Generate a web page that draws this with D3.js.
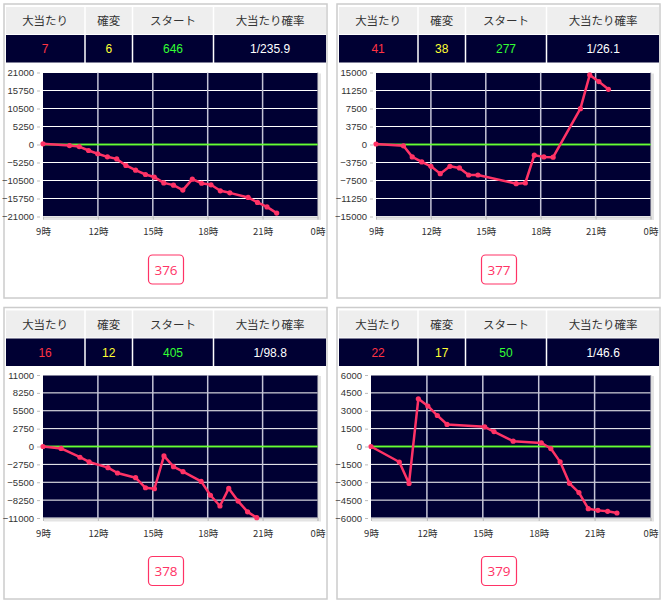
<!DOCTYPE html>
<html><head><meta charset="utf-8">
<script src="https://cdn.jsdelivr.net/npm/d3@7/dist/d3.min.js"></script>
<style>
html,body{margin:0;padding:0;background:#fff;}
svg{display:block;}
</style></head>
<body>
<svg id="chart" width="668" height="609"></svg>
<script>
// ---- data ----
const machineIds = ["376", "377", "378", "379"];
const bigHits = [7, 41, 16, 22];
const kakuhen = [6, 38, 12, 17];
const startCounts = [646, 277, 405, 50];
const hitProbs = ["1/235.9", "1/26.1", "1/98.8", "1/46.6"];
const headerLabels = ["大当たり", "確変", "スタート", "大当たり確率"];
const yMaxes = [21000, 15000, 11000, 6000];
const hourTicks = [9, 12, 15, 18, 21, 24];
const hourLabels = ["9時", "12時", "15時", "18時", "21時", "0時"];

const hours376 = [9.0,10.45,10.98,11.49,11.99,12.52,13.03,13.53,14.06,14.6,15.08,15.6,16.13,16.64,17.16,17.67,18.18,18.69,19.21,20.21,20.72,21.24,21.77];
const values376 = [200,-300,-600,-1750,-2700,-3600,-4200,-6100,-7500,-8750,-9500,-11200,-11850,-13300,-10100,-11300,-11750,-13500,-14100,-15450,-16900,-18200,-20000];

const hours377 = [9.0,10.5,10.98,11.5,12.0,12.51,13.04,13.56,14.06,14.57,16.66,17.16,17.65,18.17,18.68,20.17,20.68,21.18,21.7];
const values377 = [100,-280,-2580,-3630,-4540,-6070,-4540,-4880,-6350,-6350,-8160,-8020,-2230,-2580,-2650,7470,14500,13100,11500];

const hours378 = [9.0,9.99,11.02,11.52,12.55,13.07,14.06,14.6,15.09,15.61,16.13,16.65,17.64,18.15,18.67,19.15,19.66,20.18,20.68];
const values378 = [0,-300,-1650,-2380,-3250,-4080,-4800,-6350,-6500,-1450,-3100,-3870,-5370,-7500,-9150,-6450,-8400,-10050,-10950];

const hours379 = [9.0,10.52,11.04,11.54,12.05,12.56,13.08,15.1,15.6,16.63,18.14,18.65,19.15,19.65,20.16,20.66,21.18,21.7,22.2];
const values379 = [0,-1300,-3100,4000,3400,2600,1850,1650,1250,450,300,-170,-1290,-3090,-3870,-5220,-5360,-5440,-5580];

const hoursList = [hours376, hours377, hours378, hours379];
const valuesList = [values376, values377, values378, values379];

// ---- layout ----
const panelPos = [[4, 4, 294, 68.5, 212.5], [337, 4, 294, 68.5, 212.5], [4, 307.5, 291.5, 67.5, 210.5], [337, 307.5, 291.5, 67.5, 210.5]];
const panelW = 323;
const colEdges = [2, 81, 128.5, 209.5, 322];
const valueColors = ["#ff3344", "#ffff33", "#33ff33", "#ffffff"];
const navy = "#000033";
const pink = "#ff3366";
const jpFont = "'Noto Sans CJK JP', 'Noto Sans', sans-serif";
const numFont = "'Liberation Sans', Arial, sans-serif";

const svg = d3.select("#chart");
svg.append("rect").attr("width", 668).attr("height", 609).attr("fill", "#fff");

machineIds.forEach((id, i) => {
  const [px, py, ph, top, bottom] = panelPos[i];
  const g = svg.append("g").attr("transform", `translate(${px},${py})`);

  // panel border
  g.append("rect").attr("x", 0).attr("y", 0).attr("width", panelW).attr("height", ph)
    .attr("fill", "#fff").attr("stroke", "#cccccc").attr("stroke-width", 1.5);

  // table
  const rowVals = [bigHits[i], kakuhen[i], startCounts[i], hitProbs[i]];
  for (let c = 0; c < 4; c++) {
    const x0 = colEdges[c] + (c === 0 ? 0 : 0.75);
    const x1 = colEdges[c + 1] - (c === 3 ? 0 : 0.75);
    g.append("rect").attr("x", x0).attr("y", 3).attr("width", x1 - x0).attr("height", 27)
      .attr("fill", "#eeeeee");
    g.append("rect").attr("x", x0).attr("y", 31).attr("width", x1 - x0).attr("height", 27.5)
      .attr("fill", navy);
    g.append("text").attr("x", (x0 + x1) / 2).attr("y", 21)
      .attr("text-anchor", "middle").attr("font-family", jpFont).attr("font-size", 11.5)
      .attr("fill", "#333").text(headerLabels[c]);
    g.append("text").attr("x", (x0 + x1) / 2).attr("y", 49)
      .attr("text-anchor", "middle").attr("font-family", numFont).attr("font-size", 12)
      .attr("fill", valueColors[c]).text(rowVals[c]);
  }

  // chart area
  const ymax = yMaxes[i];
  const left = String(-ymax).length >= 6 ? 39 : 34;
  const right = panelW - 9.5;
  const x = d3.scaleLinear().domain([9, 24]).range([left, right]);
  const y = d3.scaleLinear().domain([-ymax, ymax]).range([bottom, top]);
  const yTicks = d3.range(-4, 5).map(k => k * ymax / 4);

  // shadow
  g.append("rect").attr("x", left + 1).attr("y", top + 1).attr("width", right - left + 2.5).attr("height", bottom - top + 2.5)
    .attr("fill", "#e4e4e4");
  g.append("rect").attr("x", left).attr("y", top).attr("width", right - left + 1).attr("height", bottom - top + 1)
    .attr("fill", "#d6d6d6");
  g.append("rect").attr("x", left).attr("y", top).attr("width", right - left).attr("height", bottom - top)
    .attr("fill", navy);

  // horizontal grid
  g.append("g").selectAll("line").data(yTicks).join("line")
    .attr("x1", left).attr("x2", right)
    .attr("y1", d => y(d)).attr("y2", d => y(d))
    .attr("stroke", d => d === 0 ? "#66ff33" : "#ffffff")
    .attr("stroke-width", d => d === 0 ? 1.5 : 1);
  // vertical grid
  g.append("g").selectAll("line").data(hourTicks.slice(1, -1)).join("line")
    .attr("x1", d => x(d)).attr("x2", d => x(d))
    .attr("y1", top).attr("y2", bottom)
    .attr("stroke", "#c4c4d6").attr("stroke-width", 1.5);
  // zero line above verticals
  g.append("line").attr("x1", left).attr("x2", right).attr("y1", y(0)).attr("y2", y(0))
    .attr("stroke", "#66ff33").attr("stroke-width", 1.5);

  // y axis
  const yAxis = d3.axisLeft(y).tickValues(yTicks).tickSize(3).tickPadding(3).tickFormat(d3.format("d"));
  const ya = g.append("g").attr("transform", `translate(${left - 3},0)`).call(yAxis);
  ya.select(".domain").remove();
  ya.selectAll(".tick line").attr("stroke", "#bbbbbb");
  ya.selectAll("text").attr("font-family", numFont).attr("font-size", 9.5).attr("fill", "#333");

  // x axis
  const xAxis = d3.axisBottom(x).tickValues(hourTicks).tickSize(3).tickPadding(9)
    .tickFormat((d, k) => hourLabels[k]);
  const xa = g.append("g").attr("transform", `translate(0,${bottom})`).call(xAxis);
  xa.select(".domain").attr("stroke", "#cccccc");
  xa.selectAll(".tick line").attr("stroke", "#bbbbbb");
  xa.selectAll("text").attr("font-family", jpFont).attr("font-size", 9.5).attr("fill", "#333");

  // series
  const pts = hoursList[i].map((h, k) => [h, valuesList[i][k]]);
  g.append("path").datum(pts)
    .attr("d", d3.line().x(d => x(d[0])).y(d => y(d[1])))
    .attr("fill", "none").attr("stroke", pink).attr("stroke-width", 2.5)
    .attr("stroke-linejoin", "round");
  g.append("g").selectAll("circle").data(pts).join("circle")
    .attr("cx", d => x(d[0])).attr("cy", d => y(d[1])).attr("r", 2.6)
    .attr("fill", pink);

  // id label
  const cx = panelW / 2 + 0.5, cy = bottom + 53;
  g.append("rect").attr("x", cx - 17.5).attr("y", cy - 14.5).attr("width", 35).attr("height", 29)
    .attr("rx", 4).attr("fill", "#fff").attr("stroke", pink).attr("stroke-width", 1.2);
  g.append("text").attr("x", cx).attr("y", cy + 5).attr("text-anchor", "middle")
    .attr("font-family", "'Open Sans', sans-serif").attr("font-size", 13.5)
    .attr("fill", pink).text(id);
});
</script>
</body></html>
